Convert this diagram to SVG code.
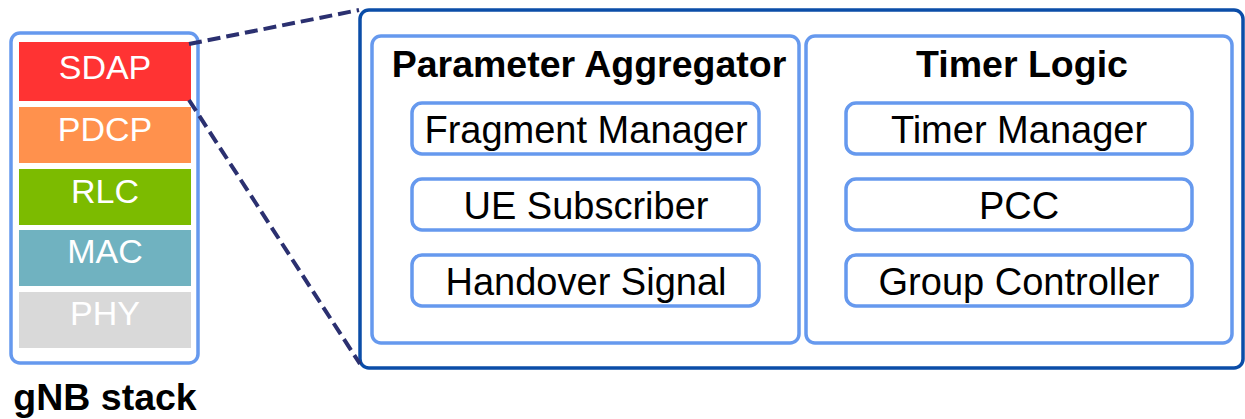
<svg xmlns="http://www.w3.org/2000/svg" width="1245" height="419" viewBox="0 0 1245 419">
<style>
.lay{font-family:"Liberation Sans",Arial,sans-serif;font-size:34px;fill:#ffffff;text-anchor:middle}
.title{font-family:"Liberation Sans",Arial,sans-serif;font-size:37.5px;font-weight:bold;fill:#000;text-anchor:middle}
.item{font-family:"Liberation Sans",Arial,sans-serif;font-size:38px;fill:#000;text-anchor:middle}
.grp{fill:#fff;stroke:#6699EE;stroke-width:3.5}
.box{fill:#fff;stroke:#6699EE;stroke-width:3.5}
.dash{fill:none;stroke:#2B3070;stroke-width:4;stroke-dasharray:13 6}
</style>
<rect width="1245" height="419" fill="#fff"/>
<g id="gnb-stack">
<rect x="11" y="33" width="187" height="330" rx="9" class="grp"/>
<rect x="19" y="42" width="172" height="59" fill="#FF3333"/>
<text x="105" y="79" class="lay">SDAP</text>
<rect x="19" y="107" width="172" height="56" fill="#FF914D"/>
<text x="105" y="141" class="lay">PDCP</text>
<rect x="19" y="169" width="172" height="56" fill="#7CBB00"/>
<text x="105" y="203" class="lay">RLC</text>
<rect x="19" y="230" width="172" height="56" fill="#70B2C0"/>
<text x="105" y="263" class="lay">MAC</text>
<rect x="19" y="292" width="172" height="56" fill="#D9D9D9"/>
<text x="105" y="325" class="lay">PHY</text>
<text x="105" y="410" class="title">gNB stack</text>
</g>
<g id="detail">
<rect x="360" y="10" width="883" height="358" rx="9" fill="#fff" stroke="#0B4DA8" stroke-width="3.5"/>
</g>
<g id="parameter-aggregator">
<rect x="372" y="36" width="427" height="307" rx="9" class="grp"/>
<text x="589" y="77" class="title">Parameter Aggregator</text>
<g id="fragment-manager"><rect x="412" y="103" width="347" height="51" rx="10" class="box"/><text x="586" y="143" class="item">Fragment Manager</text></g>
<g id="ue-subscriber"><rect x="412" y="179" width="347" height="51" rx="10" class="box"/><text x="586" y="219" class="item">UE Subscriber</text></g>
<g id="handover-signal"><rect x="412" y="255" width="347" height="51" rx="10" class="box"/><text x="586" y="295" class="item">Handover Signal</text></g>
</g>
<g id="timer-logic">
<rect x="806" y="36" width="426" height="307" rx="9" class="grp"/>
<text x="1022" y="77" class="title">Timer Logic</text>
<g id="timer-manager"><rect x="846" y="103" width="346" height="51" rx="10" class="box"/><text x="1019" y="143" class="item">Timer Manager</text></g>
<g id="pcc"><rect x="846" y="179" width="346" height="51" rx="10" class="box"/><text x="1019" y="219" class="item">PCC</text></g>
<g id="group-controller"><rect x="846" y="255" width="346" height="51" rx="10" class="box"/><text x="1019" y="295" class="item">Group Controller</text></g>
</g>
<g id="connectors">
<line x1="189" y1="44" x2="359" y2="10" class="dash"/>
<line x1="189" y1="100" x2="360" y2="364" class="dash"/>
</g>
</svg>
